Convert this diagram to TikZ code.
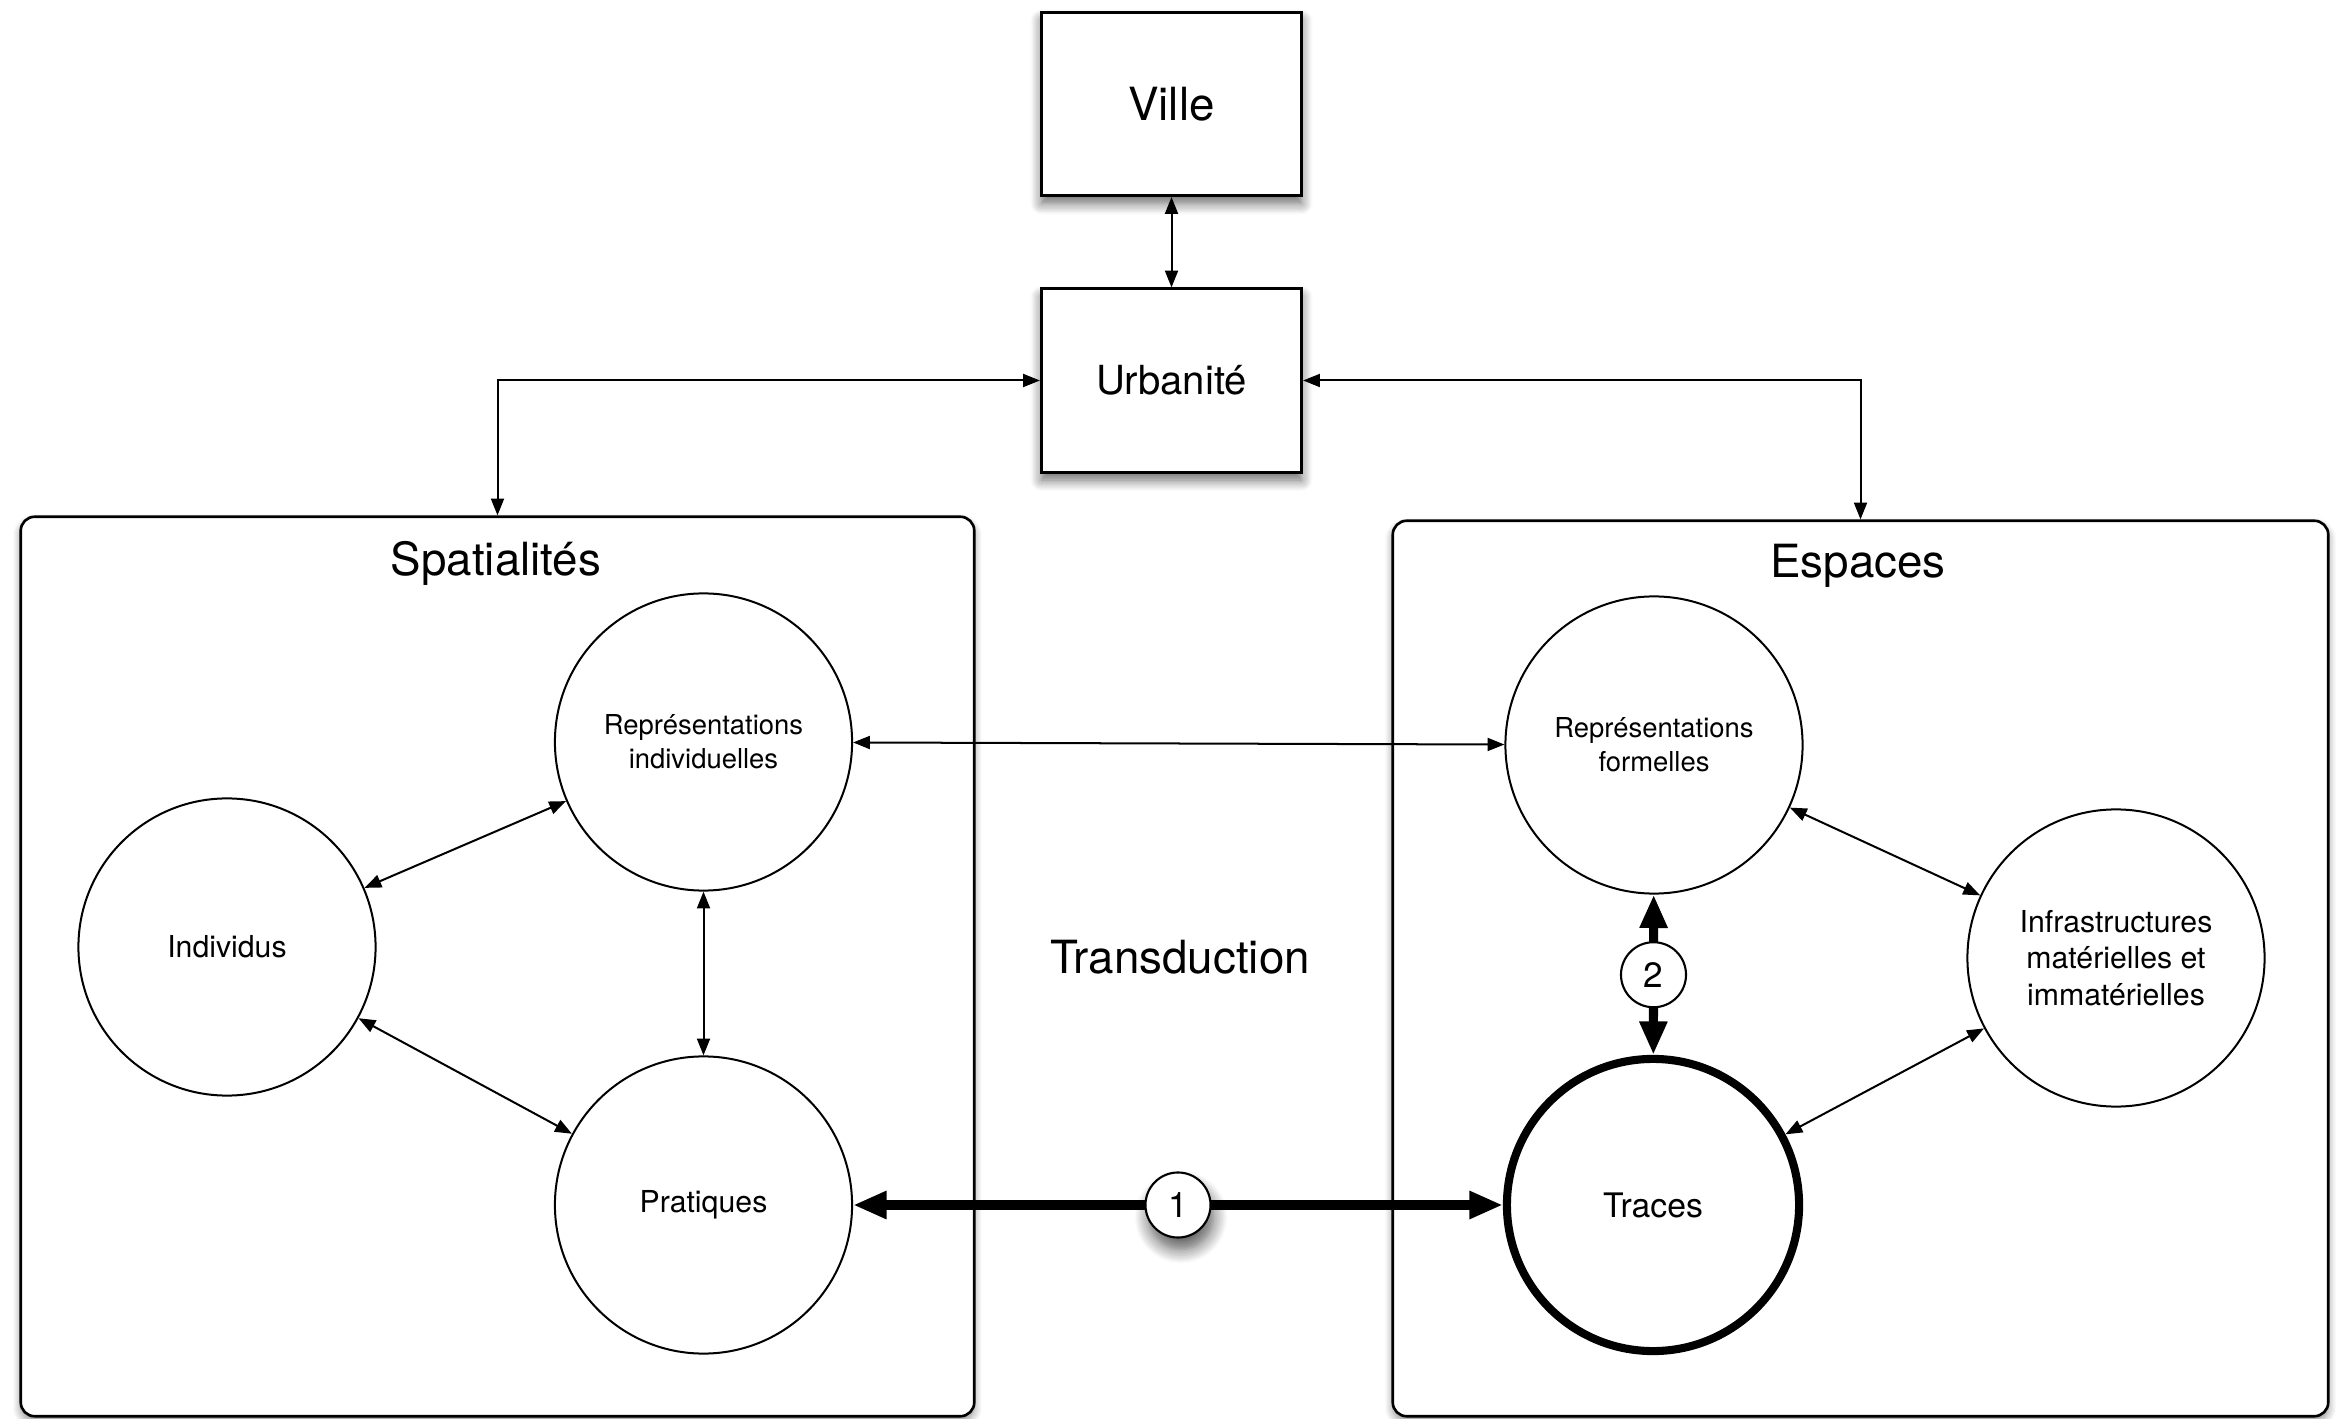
\documentclass[tikz,border=0pt]{standalone}
\usepackage{fontspec}
\setmainfont{TeX Gyre Heros}
\usetikzlibrary{arrows.meta,shadows.blur}

\begin{document}
\begin{tikzpicture}[x=0.01cm,y=-0.01cm,
  bigtxt/.style={font=\fontsize{13pt}{15.6pt}\selectfont},
  sbox/.style={draw,line width=0.85pt,fill=white,minimum width=2.6cm,minimum height=1.83cm,inner sep=0pt,bigtxt,
    blur shadow={shadow xshift=0pt,shadow yshift=-0.08cm,shadow blur radius=0.11cm,shadow blur steps=10,shadow opacity=60}},
  region/.style={draw,line width=0.75pt,rounded corners=0.14cm,fill=white,inner sep=0pt,
    blur shadow={shadow xshift=0pt,shadow yshift=-0.05cm,shadow blur radius=0.08cm,shadow blur steps=8,shadow opacity=45}},
  circ/.style={draw,circle,line width=0.57pt,minimum size=2.97cm,inner sep=0pt,align=center,
    font=\fontsize{8.6pt}{10.4pt}\selectfont},
  repfont/.style={font=\fontsize{7.8pt}{9.7pt}\selectfont},
  badge/.style={draw,circle,fill=white,line width=0.6pt,minimum size=0.65cm,inner sep=0pt,
    font=\fontsize{10pt}{11pt}\selectfont},
  thinarr/.style={line width=0.57pt,arrows={Triangle[length=4.8pt,width=3.7pt]-Triangle[length=4.8pt,width=3.7pt]}},
  thickarr/.style={line width=2.6pt,arrows={Triangle[length=9.5pt,width=7.4pt]-Triangle[length=9.5pt,width=7.4pt]}}
]
\useasboundingbox (0,0) rectangle (2345,1419);

% regions
\node[region,minimum width=9.53cm,minimum height=8.99cm] (spat) at (497.5,966.5) {};
\node[region,minimum width=9.35cm,minimum height=8.95cm] (esp) at (1860.5,968.5) {};
\node[bigtxt] (spatt) at (496,563) {Spatialités};
\node[bigtxt] (espt) at (1858,566) {Espaces};
\node[bigtxt] (trans) at (1180,957) {Transduction};

% top boxes
\node[sbox] (ville) at (1171.5,104) {Ville};
\node[sbox,font=\fontsize{11.4pt}{13pt}\selectfont] (urb) at (1171.5,380.5) {Urbanité};

% circles
\node[circ,repfont] (ri) at (703.5,742) {Représentations\\individuelles};
\node[circ] (ind) at (227,947) {Individus};
\node[circ] (prat) at (703.5,1205) {Pratiques};
\node[circ,repfont] (rf) at (1654,745) {Représentations\\formelles};
\node[circ] (inf) at (2116,958) {Infrastructures\\matérielles et\\immatérielles};
\node[circ,line width=2.3pt,minimum size=2.92cm,font=\fontsize{9.6pt}{11pt}\selectfont] (tr) at (1653,1205) {Traces};

% thin connectors
\draw[thinarr] (ville) -- (urb);
\draw[thinarr] (urb.west) -| (spat.north);
\draw[thinarr] (urb.east) -| (esp.north);
\draw[thinarr] (ri) -- (rf);
\draw[thinarr] (ind) -- (ri);
\draw[thinarr] (ind) -- (prat);
\draw[thinarr] (ri) -- (prat);
\draw[thinarr] (rf) -- (inf);
\draw[thinarr] (tr) -- (inf);

% thick connectors with badges
\draw[thickarr] (prat) -- node[badge,blur shadow={shadow xshift=0.03cm,shadow yshift=-0.12cm,shadow blur radius=0.14cm,shadow blur steps=10,shadow opacity=65}] (b1) {1} (tr);
\draw[thickarr] (rf) -- node[badge] (b2) {2} (tr);
\end{tikzpicture}
\end{document}
